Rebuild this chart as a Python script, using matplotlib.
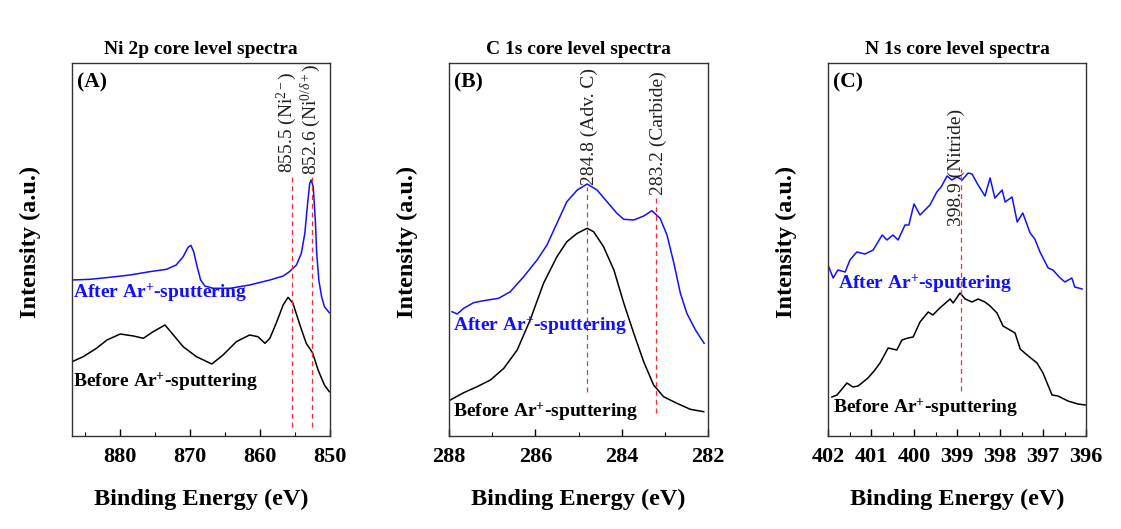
import numpy as np
import matplotlib
matplotlib.use("Agg")
import matplotlib.pyplot as plt

plt.rcParams['font.family'] = ['Liberation Serif', 'DejaVu Serif']
plt.rcParams['mathtext.fontset'] = 'custom'
plt.rcParams['mathtext.rm'] = 'Liberation Serif'
plt.rcParams['mathtext.it'] = 'Liberation Serif:italic'
plt.rcParams['mathtext.bf'] = 'Liberation Serif:bold'
plt.rcParams['mathtext.fallback'] = 'stix'

# Ni 2p spectra
ni_be_after = [886.9, 884.3, 881.5, 878.6, 875.8, 873.4, 872.0, 871.0, 870.3, 869.9, 869.5,
               869.0, 868.5, 867.9, 866.7, 864.3, 861.5, 858.6, 856.7, 855.8, 854.8, 854.1,
               853.6, 853.2, 852.9, 852.7, 852.4, 852.1, 851.9, 851.6, 851.2, 850.8, 850.1]
ni_int_after = [156, 156.7, 158.7, 161, 164.3, 166.7, 171, 179.3, 188.7, 190.7, 184.3,
                169.3, 156, 150, 147.7, 147.7, 151, 156, 160, 164.3, 171, 182.7,
                202.7, 232.7, 252.7, 256, 249.3, 216, 182.7, 156, 139.3, 129.3, 123.3]
ni_be_before = [886.9, 885.3, 883.4, 881.9, 880.0, 878.1, 876.7, 875.3, 873.6, 872.4, 871.0,
                869.1, 866.9, 865.3, 863.4, 861.5, 860.3, 859.3, 858.6, 857.7, 856.7, 856.0,
                855.3, 854.3, 853.4, 852.5, 851.7, 850.8, 850.1]
ni_int_before = [74.3, 79.3, 87.7, 96, 102, 100, 97.7, 104.3, 111, 101, 89.3,
                 79.3, 72, 81, 94.3, 101, 99.3, 92.7, 97.7, 112.7, 131, 138.7,
                 132.7, 111, 92.7, 83.3, 66, 51, 44.3]

# C 1s spectra
c_be_after = [287.93, 287.81, 287.66, 287.43, 287.20, 286.85, 286.58, 286.27, 285.96, 285.73,
              285.50, 285.27, 285.03, 284.80, 284.57, 284.34, 284.11, 283.95, 283.72, 283.49,
              283.30, 283.11, 282.95, 282.79, 282.64, 282.49, 282.29, 282.09]
c_int_after = [124.3, 122, 127.7, 133.3, 135.3, 137.7, 144.3, 159.3, 176, 191,
               212.7, 234.3, 246, 252, 246, 234.3, 222.7, 216.7, 216, 220,
               225.3, 217.7, 201, 172.7, 142.7, 122.7, 106, 92.7]
c_be_before = [287.97, 287.66, 287.35, 287.04, 286.73, 286.42, 286.12, 285.81, 285.50, 285.27,
               285.03, 284.80, 284.65, 284.42, 284.18, 283.95, 283.72, 283.49, 283.26, 283.03,
               282.72, 282.41, 282.10]
c_int_before = [36, 43.3, 49.3, 56, 67.7, 86, 116, 152.7, 179.3, 194.3,
                202.7, 207.7, 204.3, 189.3, 166, 132.7, 102.7, 74.3, 51, 39.3,
                32.7, 26.7, 24.3]

# N 1s spectra
n_be_after = [402.00, 401.88, 401.77, 401.60, 401.49, 401.33, 401.14, 400.95, 400.74, 400.63,
              400.49, 400.37, 400.21, 400.12, 400.00, 399.86, 399.63, 399.47, 399.37, 399.23,
              399.12, 399.00, 398.88, 398.74, 398.65, 398.51, 398.35, 398.23, 398.12, 397.95,
              397.88, 397.72, 397.60, 397.47, 397.30, 397.19, 397.07, 396.88, 396.77, 396.60,
              396.49, 396.33, 396.26, 396.09]
n_int_after = [171, 158, 166, 164, 176, 184, 182, 186, 201, 196,
               201, 196, 211, 211, 232, 221, 231, 244, 249, 260,
               256, 259, 256, 263, 262, 251, 240, 258, 238, 246,
               234, 239, 214, 223, 203, 197, 184, 168, 166, 158,
               154, 158, 149, 147]
n_be_before = [401.91, 401.79, 401.56, 401.42, 401.30, 401.07, 400.91, 400.79, 400.60, 400.40,
               400.28, 400.14, 400.02, 399.86, 399.67, 399.56, 399.40, 399.16, 399.09, 398.93,
               398.81, 398.65, 398.51, 398.35, 398.23, 398.07, 397.93, 397.65, 397.53, 397.37,
               397.14, 397.00, 396.79, 396.65, 396.42, 396.19, 396.02]
n_int_before = [39, 41, 53, 49, 50, 58, 66, 73, 88, 86,
                96, 98, 99, 114, 124, 121, 128, 137, 133, 143,
                137, 134, 137, 134, 130, 123, 110, 103, 87, 81,
                73, 63, 41, 40, 35, 32, 31]

# peak markers
ni_peaks = [855.5, 852.6]
ni_peak_labels = [r'855.5 (Ni$^{2-}$)', r'852.6 (Ni$^{0/\delta+}$)']
c_peaks = [284.8, 283.2]
c_peak_labels = ['284.8 (Adv. C)', '283.2 (Carbide)']
n_peaks = [398.9]
n_peak_labels = ['398.9 (Nitride)']

# dashed line extent (top, bottom) and label baseline (height, x shift in pt)
ni_marks = [(263, 9, 263, 0.0), (259, 9, 261, 3.2)]
c_marks = [(249, 44, 251, 5.0), (239, 23, 241, 5.0)]
n_marks = [(267, 45, 210, 0.0)]

fig = plt.figure(figsize=(11.21, 5.29), dpi=100)
ax_a = fig.add_axes([72/1121, 93/529, 258/1121, 373/529])
ax_b = fig.add_axes([449/1121, 93/529, 259/1121, 373/529])
ax_c = fig.add_axes([828/1121, 93/529, 258/1121, 373/529])

panels = [
    (ax_a, 'Ni 2p core level spectra', '(A)', (886.9, 850), [880, 870, 860, 850], 5,
     ni_be_after, ni_int_after, ni_be_before, ni_int_before,
     ni_peaks, ni_peak_labels, ni_marks,
     (0.004, 0.383), (0.004, 0.145)),
    (ax_b, 'C 1s core level spectra', '(B)', (288, 282), [288, 286, 284, 282], 1,
     c_be_after, c_int_after, c_be_before, c_int_before,
     c_peaks, c_peak_labels, c_marks,
     (0.015, 0.295), (0.015, 0.064)),
    (ax_c, 'N 1s core level spectra', '(C)', (402, 396), [402, 401, 400, 399, 398, 397, 396], 0.5,
     n_be_after, n_int_after, n_be_before, n_int_before,
     n_peaks, n_peak_labels, n_marks,
     (0.039, 0.407), (0.019, 0.075)),
]

for (ax, title, tag, xlim, xticks, minor, bx_a, by_a, bx_b, by_b,
     peaks, plabels, marks, pos_after, pos_before) in panels:
    ax.plot(bx_a, by_a, color='#1010ff', lw=1.1)
    ax.plot(bx_b, by_b, color='black', lw=1.1)
    for p, lab, (top, bot, ty, dx) in zip(peaks, plabels, marks):
        ax.plot([p, p], [bot, top], color='#f03030', ls=(0, (4, 3)), lw=0.9)
        ax.annotate(lab, xy=(p, ty), xytext=(dx, 0), textcoords='offset points',
                    rotation=90, rotation_mode='anchor', ha='left', va='baseline',
                    fontsize=14, color='#202020')
    ax.set_xlim(*xlim)
    ax.set_ylim(0, 373)
    ax.set_xticks(xticks)
    ax.xaxis.set_minor_locator(matplotlib.ticker.MultipleLocator(minor))
    ax.set_yticks([])
    ax.tick_params(axis='x', which='major', direction='in', length=5, width=1,
                   labelsize=16, pad=8)
    ax.tick_params(axis='x', which='minor', direction='in', length=3, width=0.8)
    for lbl in ax.get_xticklabels():
        lbl.set_fontweight('bold')
    for s in ax.spines.values():
        s.set_linewidth(1.0)
        s.set_color('#333333')
    ax.text(0.5, 1.0375, title, transform=ax.transAxes, ha='center', va='center',
            fontsize=14, fontweight='bold')
    ax.text(0.018, 0.949, tag, transform=ax.transAxes, ha='left', va='center',
            fontsize=15.5, fontweight='bold')
    ax.text(pos_after[0], pos_after[1], r'After Ar$^{\mathbf{+}}$-sputtering', transform=ax.transAxes,
            ha='left', va='center', fontsize=14, fontweight='bold', color='#1010ff')
    ax.text(pos_before[0], pos_before[1], r'Before Ar$^{\mathbf{+}}$-sputtering', transform=ax.transAxes,
            ha='left', va='center', fontsize=14, fontweight='bold', color='black')
    ax.set_xlabel('Binding Energy (eV)', fontsize=17.5, fontweight='bold')
    ax.set_ylabel('Intensity (a.u.)', fontsize=17.5, fontweight='bold')
    ax.xaxis.set_label_coords(0.5, -0.142)
    ax.yaxis.set_label_coords(-0.12, 0.52)

fig.savefig('out.png', dpi=100)
